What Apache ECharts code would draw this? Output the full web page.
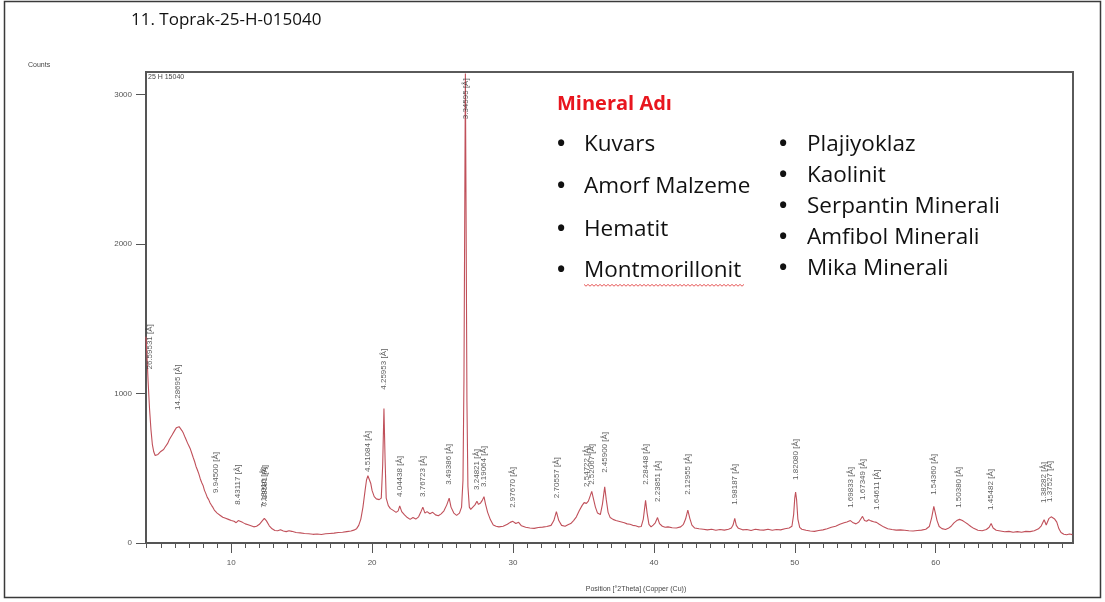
<!DOCTYPE html>
<html>
<head>
<meta charset="utf-8">
<title>11. Toprak-25-H-015040</title>
<script src="https://cdn.jsdelivr.net/npm/echarts@6/dist/echarts.min.js"></script>
<style>
  html, body { margin: 0; padding: 0; background: #fff; }
  #chart { width: 1105px; height: 602px; }
</style>
</head>
<body>
<div id="chart"></div>
<script>
// diffractogram: position (deg 2theta) and counts
const twoTheta = [
  3.95, 4.02, 4.1, 4.2, 4.3, 4.4, 4.5, 4.6, 4.7, 4.8, 4.9, 5.0, 5.1, 5.2, 5.3, 5.4, 5.5, 5.6, 5.7, 5.8,
  5.9, 6.0, 6.1, 6.2, 6.3, 6.4, 6.5, 6.6, 6.7, 6.8, 6.9, 7.0, 7.1, 7.2, 7.3, 7.4, 7.5, 7.6, 7.7, 7.8,
  7.9, 8.0, 8.1, 8.2, 8.3, 8.4, 8.5, 8.6, 8.7, 8.8, 8.9, 9.0, 9.2, 9.4, 9.6, 9.8, 10.0, 10.2, 10.35, 10.5,
  10.6, 10.8, 11.0, 11.2, 11.4, 11.6, 11.8, 12.0, 12.2, 12.35, 12.5, 12.7, 12.9, 13.1, 13.3, 13.5, 13.7, 13.9, 14.1, 14.3,
  14.6, 14.9, 15.2, 15.5, 15.8, 16.1, 16.4, 16.7, 17.0, 17.3, 17.6, 17.9, 18.2, 18.5, 18.7, 18.9, 19.05, 19.2, 19.35, 19.5,
  19.6, 19.7, 19.8, 19.9, 20.0, 20.15, 20.3, 20.5, 20.65, 20.75, 20.84, 20.92, 21.0, 21.15, 21.3, 21.5, 21.7, 21.85, 21.96, 22.1,
  22.3, 22.5, 22.7, 22.9, 23.1, 23.3, 23.45, 23.6, 23.75, 23.9, 24.1, 24.3, 24.5, 24.7, 24.9, 25.1, 25.3, 25.47, 25.6, 25.8,
  26.0, 26.2, 26.35, 26.45, 26.52, 26.58, 26.62, 26.67, 26.73, 26.8, 26.9, 27.0, 27.15, 27.3, 27.44, 27.55, 27.7, 27.82, 27.94, 28.05,
  28.2, 28.4, 28.6, 28.8, 29.0, 29.3, 29.6, 29.8, 29.99, 30.2, 30.4, 30.6, 30.9, 31.2, 31.5, 31.8, 32.1, 32.4, 32.7, 32.9,
  33.08, 33.25, 33.45, 33.7, 33.9, 34.1, 34.3, 34.5, 34.7, 34.9, 35.05, 35.21, 35.35, 35.5, 35.59, 35.7, 35.85, 36.0, 36.2, 36.35,
  36.51, 36.62, 36.75, 36.9, 37.1, 37.3, 37.5, 37.7, 37.9, 38.1, 38.3, 38.5, 38.7, 38.9, 39.1, 39.25, 39.41, 39.52, 39.65, 39.8,
  39.95, 40.1, 40.26, 40.4, 40.6, 40.8, 41.0, 41.3, 41.6, 41.9, 42.1, 42.25, 42.41, 42.55, 42.7, 42.9, 43.2, 43.5, 43.8, 44.1,
  44.4, 44.7, 45.0, 45.3, 45.5, 45.62, 45.74, 45.85, 46.0, 46.3, 46.6, 46.9, 47.2, 47.5, 47.8, 48.1, 48.4, 48.7, 49.0, 49.3,
  49.6, 49.8, 49.92, 50.0, 50.06, 50.13, 50.22, 50.35, 50.5, 50.8, 51.1, 51.4, 51.7, 52.0, 52.3, 52.6, 52.9, 53.2, 53.5, 53.7,
  53.95, 54.15, 54.35, 54.55, 54.7, 54.81, 54.95, 55.1, 55.25, 55.4, 55.6, 55.8, 56.0, 56.3, 56.6, 56.9, 57.2, 57.5, 57.8, 58.1,
  58.4, 58.7, 59.0, 59.3, 59.55, 59.72, 59.87, 59.98, 60.1, 60.25, 60.45, 60.7, 60.9, 61.1, 61.3, 61.5, 61.7, 61.9, 62.1, 62.3,
  62.5, 62.7, 63.0, 63.3, 63.6, 63.8, 63.94, 64.08, 64.3, 64.6, 64.9, 65.2, 65.5, 65.8, 66.1, 66.4, 66.7, 67.0, 67.3, 67.5,
  67.7, 67.85, 67.95, 68.05, 68.2, 68.3, 68.45, 68.6, 68.75, 68.9, 69.1, 69.3, 69.5, 69.7
];
const counts = [
  1380, 1250, 1080, 900, 760, 660, 610, 585, 580, 592, 600, 612, 605, 625, 640, 650, 668, 690, 700, 722,
  735, 755, 770, 782, 778, 770, 752, 735, 712, 690, 668, 648, 628, 600, 572, 545, 512, 488, 462, 430,
  405, 385, 352, 330, 305, 290, 268, 252, 238, 220, 212, 200, 186, 172, 165, 158, 150, 145, 136, 150,
  155, 138, 128, 122, 115, 108, 112, 125, 148, 165, 148, 115, 95, 84, 82, 88, 80, 76, 82, 78,
  70, 68, 64, 62, 58, 60, 57, 62, 64, 66, 70, 72, 76, 80, 86, 96, 118, 160, 240, 350,
  420, 450, 438, 400, 350, 310, 295, 290, 300, 520, 900, 560, 300, 250, 230, 218, 205, 215, 248, 210,
  188, 170, 158, 170, 160, 175, 205, 240, 200, 210, 196, 205, 188, 182, 195, 215, 255, 300, 240, 200,
  185, 200, 240, 420, 1100, 2300, 3140, 2200, 950, 380, 240, 225, 240, 255, 280, 258, 268, 285, 310, 260,
  205, 155, 120, 112, 108, 112, 125, 138, 145, 130, 138, 115, 105, 100, 98, 104, 106, 110, 118, 150,
  210, 150, 118, 112, 122, 130, 150, 175, 215, 250, 270, 265, 280, 320, 345, 300, 240, 200, 190, 260,
  375, 290, 205, 170, 158, 150, 145, 140, 135, 128, 125, 118, 115, 108, 110, 160, 285, 200, 125, 108,
  120, 135, 170, 130, 112, 105, 108, 102, 100, 108, 125, 160, 220, 165, 120, 100, 95, 92, 88, 92,
  85, 90, 86, 92, 100, 120, 165, 118, 98, 88, 90, 84, 92, 88, 86, 92, 85, 90, 88, 95,
  100, 112, 190, 300, 340, 290, 160, 105, 92, 85, 80, 78, 84, 88, 95, 105, 112, 125, 135, 140,
  150, 135, 128, 140, 162, 178, 150, 145, 155, 148, 142, 138, 125, 108, 95, 90, 86, 88, 85, 82,
  80, 84, 86, 92, 110, 170, 245, 200, 150, 110, 96, 90, 98, 112, 135, 150, 158, 150, 138, 125,
  110, 98, 85, 82, 90, 105, 130, 100, 85, 80, 75, 78, 72, 76, 72, 78, 76, 82, 95, 115,
  155, 120, 130, 165, 175, 168, 160, 140, 95, 70, 58, 55, 60, 56
];

// peak annotations: position, d-spacing text, height where the label starts
const peakPos = [4.25, 6.18, 8.885, 10.484, 12.31, 12.40, 19.665, 20.838, 21.96, 23.60, 25.47, 26.62, 27.44, 27.94,
  29.99, 33.08, 35.21, 35.59, 36.51, 39.41, 40.26, 42.41, 45.74, 50.06, 53.95, 54.81, 55.80, 59.87, 61.62, 63.94, 67.70, 68.10];
const peakText = ['26.59531', '14.28695', '9.94500', '8.43117', '7.18016', '7.13581', '4.51084', '4.25953', '4.04438',
  '3.76723', '3.49386', '3.34595', '3.24821', '3.19064', '2.97670', '2.70557', '2.54722', '2.52067', '2.45900',
  '2.28448', '2.23851', '2.12955', '1.98187', '1.82080', '1.69833', '1.67349', '1.64611', '1.54360', '1.50380',
  '1.45482', '1.38282', '1.37527'];
const peakLabelAt = [1160, 890, 335, 255, 235, 248, 475, 1025, 308, 308, 389, 2834, 355, 375, 235, 300, 375, 389,
  469, 389, 275, 322, 255, 422, 235, 288, 221, 322, 235, 221, 268, 275];

const xLabelValues = [10, 20, 30, 40, 50, 60];
const yLabelValues = [0, 1000, 2000, 3000];

const legendTitle = 'Mineral Adı';
const mineralsLeft = ['Kuvars', 'Amorf Malzeme', 'Hematit', 'Montmorillonit'];
const mineralsRight = ['Plajiyoklaz', 'Kaolinit', 'Serpantin Minerali', 'Amfibol Minerali', 'Mika Minerali'];

const X_MIN = 3.95;
const X_MAX = 69.75;
const minorTicks = [];
for (let v = 4; v <= 69; v++) minorTicks.push(v);

const chart = echarts.init(document.getElementById('chart'));

const smallFont = 'Liberation Sans';
const slideFont = 'Open Sans';

const leftRows = [145, 187, 230, 271];
const rightRows = [145, 176, 207, 238, 269];

const graphics = [
  { type: 'rect', shape: { x: 4.5, y: 1.5, width: 1096, height: 596 }, style: { fill: 'none', stroke: '#3a3a3a', lineWidth: 1.5 }, silent: true },
  { type: 'text', x: 131, y: 20, style: { text: '11. Toprak-25-H-015040', font: '17px "' + slideFont + '"', fill: '#111', verticalAlign: 'middle' } },
  { type: 'text', x: 28, y: 65, style: { text: 'Counts', font: '7px "' + smallFont + '"', fill: '#444', verticalAlign: 'middle' } },
  { type: 'text', x: 148, y: 77, style: { text: '25 H 15040', font: '7px "' + smallFont + '"', fill: '#444', verticalAlign: 'middle' } },
  { type: 'text', x: 636, y: 589, style: { text: 'Position [°2Theta] (Copper (Cu))', font: '7px "' + smallFont + '"', fill: '#444', align: 'center', verticalAlign: 'middle' } },
  { type: 'text', x: 557, y: 104, style: { text: legendTitle, font: 'bold 20px "' + slideFont + '"', fill: '#e8161e', verticalAlign: 'middle' } }
];
mineralsLeft.forEach((name, i) => {
  graphics.push({ type: 'text', x: 557, y: leftRows[i], style: { text: '•', font: 'bold 22px "' + slideFont + '"', fill: '#111', verticalAlign: 'middle' } });
  graphics.push({ type: 'text', x: 584, y: leftRows[i], style: { text: name, font: '22.5px "' + slideFont + '"', fill: '#111', verticalAlign: 'middle' } });
});
mineralsRight.forEach((name, i) => {
  graphics.push({ type: 'text', x: 779, y: rightRows[i], style: { text: '•', font: 'bold 22px "' + slideFont + '"', fill: '#111', verticalAlign: 'middle' } });
  graphics.push({ type: 'text', x: 807, y: rightRows[i], style: { text: name, font: '22.5px "' + slideFont + '"', fill: '#111', verticalAlign: 'middle' } });
});
// spell-check squiggle under Montmorillonit
const squiggle = [];
for (let x = 584, k = 0; x <= 745; x += 2, k++) squiggle.push([x, 285 + (k % 2 ? 1.2 : -0.6)]);
graphics.push({ type: 'polyline', shape: { points: squiggle }, style: { stroke: '#e03030', lineWidth: 0.8, fill: 'none' }, silent: true });

const option = {
  backgroundColor: '#fff',
  animation: false,
  grid: {
    left: 146, right: 32, top: 72, bottom: 59,
    show: true, borderColor: '#5a5a5a', borderWidth: 2
  },
  xAxis: [
    {
      type: 'value', min: X_MIN, max: X_MAX,
      axisLine: { show: true, lineStyle: { color: '#555', width: 2 } },
      axisTick: { show: true, length: 10, customValues: xLabelValues, lineStyle: { color: '#555' } },
      axisLabel: { customValues: xLabelValues, margin: 16, color: '#555', fontSize: 8, fontFamily: smallFont },
      splitLine: { show: false }
    },
    {
      type: 'value', min: X_MIN, max: X_MAX, position: 'bottom',
      axisLine: { show: false },
      axisTick: { show: true, length: 5, customValues: minorTicks, lineStyle: { color: '#555' } },
      axisLabel: { show: false },
      splitLine: { show: false }
    }
  ],
  yAxis: {
    type: 'value', min: 0, max: 3150, interval: 1000,
    axisLine: { show: true, lineStyle: { color: '#555', width: 2 } },
    axisTick: { show: true, length: 10, customValues: yLabelValues, lineStyle: { color: '#555' } },
    axisLabel: {
      customValues: yLabelValues, margin: 14, color: '#555', fontSize: 8, fontFamily: smallFont,
      formatter: (v) => String(v)
    },
    splitLine: { show: false }
  },
  series: [
    {
      type: 'line',
      data: twoTheta.map((t, i) => [t, counts[i]]),
      showSymbol: false,
      lineStyle: { color: '#c0505a', width: 1.1 },
      z: 3
    },
    {
      type: 'scatter',
      data: peakPos.map((p, i) => ({ value: [p, peakLabelAt[i]], name: peakText[i] })),
      symbolSize: 1,
      itemStyle: { color: 'rgba(0,0,0,0)' },
      label: {
        show: true,
        position: 'inside',
        rotate: 90,
        align: 'left',
        verticalAlign: 'middle',
        formatter: (p) => p.name + ' [Å]',
        fontSize: 8,
        fontFamily: smallFont,
        color: '#333'
      },
      z: 4
    }
  ],
  graphic: graphics
};

chart.setOption(option);
</script>
</body>
</html>
